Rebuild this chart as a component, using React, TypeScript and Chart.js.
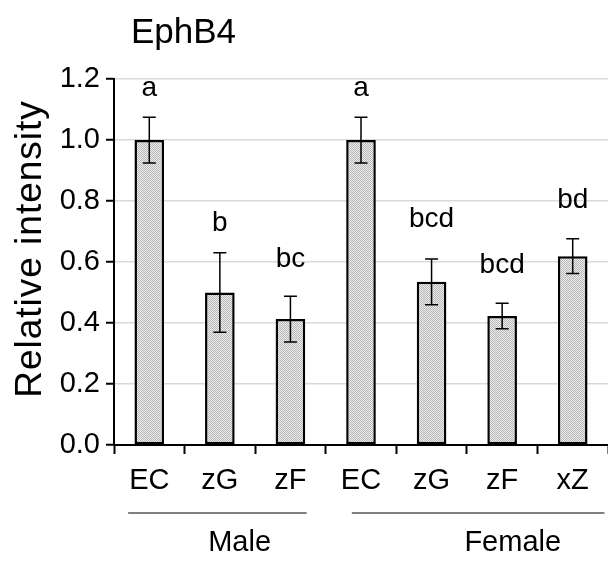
import React, { useEffect, useRef } from "react";
import { Chart, registerables } from "chart.js";

Chart.register(...registerables);

const title = "EphB4";
const categories = ["EC", "zG", "zF", "EC", "zG", "zF", "xZ"];
const means = [1.0, 0.5, 0.413, 1.0, 0.535, 0.423, 0.619];
const errors = [0.075, 0.13, 0.075, 0.075, 0.075, 0.042, 0.057];
const letters = ["a", "b", "bc", "a", "bcd", "bcd", "bd"];
const letterHeights = [1.17, 0.728, 0.61, 1.17, 0.741, 0.59, 0.801];
const groups = ["Male", "Female"];
const groupSpans = [
  [0, 2],
  [3, 6],
];
const yTicks = [0, 0.2, 0.4, 0.6, 0.8, 1.0, 1.2];
const yTitle = "Relative intensity";

const FONT = "'Liberation Sans', Arial, sans-serif";

function makePattern(): CanvasPattern | string {
  const c = document.createElement("canvas");
  c.width = 2;
  c.height = 2;
  const ctx = c.getContext("2d");
  if (!ctx) return "#d4d4d4";
  ctx.fillStyle = "#ececec";
  ctx.fillRect(0, 0, 2, 2);
  ctx.fillStyle = "#b8b8b8";
  ctx.fillRect(0, 0, 1, 1);
  ctx.fillRect(1, 1, 1, 1);
  const p = ctx.createPattern(c, "repeat");
  return p || "#d4d4d4";
}

export default function App() {
  const ref = useRef<HTMLCanvasElement | null>(null);

  useEffect(() => {
    document.body.style.margin = "0";
    const canvas = ref.current;
    if (!canvas) return;

    const overlay = {
      id: "overlay",
      afterDatasetsDraw(chart: any) {
        const ctx = chart.ctx;
        const x = chart.scales.x;
        const y = chart.scales.y;
        ctx.save();
        // error bars
        ctx.strokeStyle = "#000";
        ctx.lineWidth = 1.5;
        means.forEach((m, i) => {
          const px = x.getPixelForValue(i);
          const top = y.getPixelForValue(m + errors[i]);
          const bot = y.getPixelForValue(m - errors[i]);
          ctx.beginPath();
          ctx.moveTo(px, top);
          ctx.lineTo(px, bot);
          ctx.moveTo(px - 6.5, top);
          ctx.lineTo(px + 6.5, top);
          ctx.moveTo(px - 6.5, bot);
          ctx.lineTo(px + 6.5, bot);
          ctx.stroke();
        });
        // letters
        ctx.fillStyle = "#000";
        ctx.font = `28px ${FONT}`;
        ctx.textAlign = "center";
        ctx.textBaseline = "middle";
        letters.forEach((t, i) => {
          ctx.fillText(t, x.getPixelForValue(i), y.getPixelForValue(letterHeights[i]));
        });
        ctx.restore();
      },
      afterDraw(chart: any) {
        const ctx = chart.ctx;
        const x = chart.scales.x;
        const y = chart.scales.y;
        const cw = x.getPixelForValue(1) - x.getPixelForValue(0);
        ctx.save();
        // title
        ctx.fillStyle = "#000";
        ctx.font = `35px ${FONT}`;
        ctx.textAlign = "left";
        ctx.textBaseline = "alphabetic";
        ctx.fillText(title, 131, 43);
        // y axis title
        ctx.save();
        ctx.translate(31, (y.top + y.bottom) / 2 - 13);
        ctx.rotate(-Math.PI / 2);
        ctx.font = `37px ${FONT}`;
        (ctx as any).letterSpacing = "1px";
        ctx.textAlign = "center";
        ctx.textBaseline = "middle";
        ctx.fillText(yTitle, 0, 0);
        ctx.restore();
        // group lines and labels
        ctx.strokeStyle = "#000";
        ctx.lineWidth = 1.2;
        ctx.font = `29px ${FONT}`;
        ctx.textAlign = "center";
        ctx.textBaseline = "middle";
        const lineY = 513;
        const ext = [
          [-0.3, 0.23],
          [-0.13, 0.45],
        ];
        const labelPos = [1.28, 5.15];
        groupSpans.forEach((s, g) => {
          const x0 = x.getPixelForValue(s[0]) + ext[g][0] * cw;
          const x1 = Math.min(x.getPixelForValue(s[1]) + ext[g][1] * cw, chart.width - 1);
          ctx.beginPath();
          ctx.moveTo(x0, lineY);
          ctx.lineTo(x1, lineY);
          ctx.stroke();
          const lp = x.getPixelForValue(0) + labelPos[g] * cw;
          ctx.fillText(groups[g], lp, 543);
        });
        ctx.restore();
      },
    };

    const chart = new Chart(canvas, {
      type: "bar",
      data: {
        labels: categories,
        datasets: [
          {
            data: means,
            backgroundColor: makePattern() as any,
            borderColor: "#000",
            borderWidth: 2.5,
            borderSkipped: false,
            barPercentage: 0.42,
            categoryPercentage: 1,
          },
        ],
      },
      options: {
        responsive: false,
        animation: false,
        devicePixelRatio: 1,
        layout: { padding: { top: 79, right: 0, left: 0, bottom: 0 } },
        plugins: {
          legend: { display: false },
          tooltip: { enabled: false },
          title: { display: false },
        },
        scales: {
          x: {
            type: "category",
            offset: true,
            grid: {
              offset: true,
              drawOnChartArea: false,
              drawTicks: true,
              tickLength: 9,
              tickColor: "#000",
              tickWidth: 2,
            },
            border: { color: "#000", width: 2 },
            ticks: {
              color: "#000",
              font: { family: FONT, size: 29 },
              padding: 10,
              maxRotation: 0,
              autoSkip: false,
            },
            afterFit(scale: any) {
              scale.height = 117;
            },
          },
          y: {
            min: 0,
            max: 1.2,
            afterBuildTicks(scale: any) {
              scale.ticks = yTicks.map((v) => ({ value: v }));
            },
            grid: {
              color: "#d9d9d9",
              lineWidth: 1.5,
              drawTicks: true,
              tickLength: 8,
              tickColor: "#000",
              tickWidth: 2,
            },
            border: { color: "#000", width: 2 },
            ticks: {
              color: "#000",
              font: { family: FONT, size: 29 },
              padding: 6,
              callback: (v: any) => Number(v).toFixed(1),
            },
            title: { display: false },
            afterFit(scale: any) {
              scale.width = 114;
            },
          },
        },
      },
      plugins: [overlay],
    });

    return () => chart.destroy();
  }, []);

  return (
    <div style={{ width: 608, height: 562 }}>
      <canvas ref={ref} width={608} height={562} style={{ display: "block" }} />
    </div>
  );
}
